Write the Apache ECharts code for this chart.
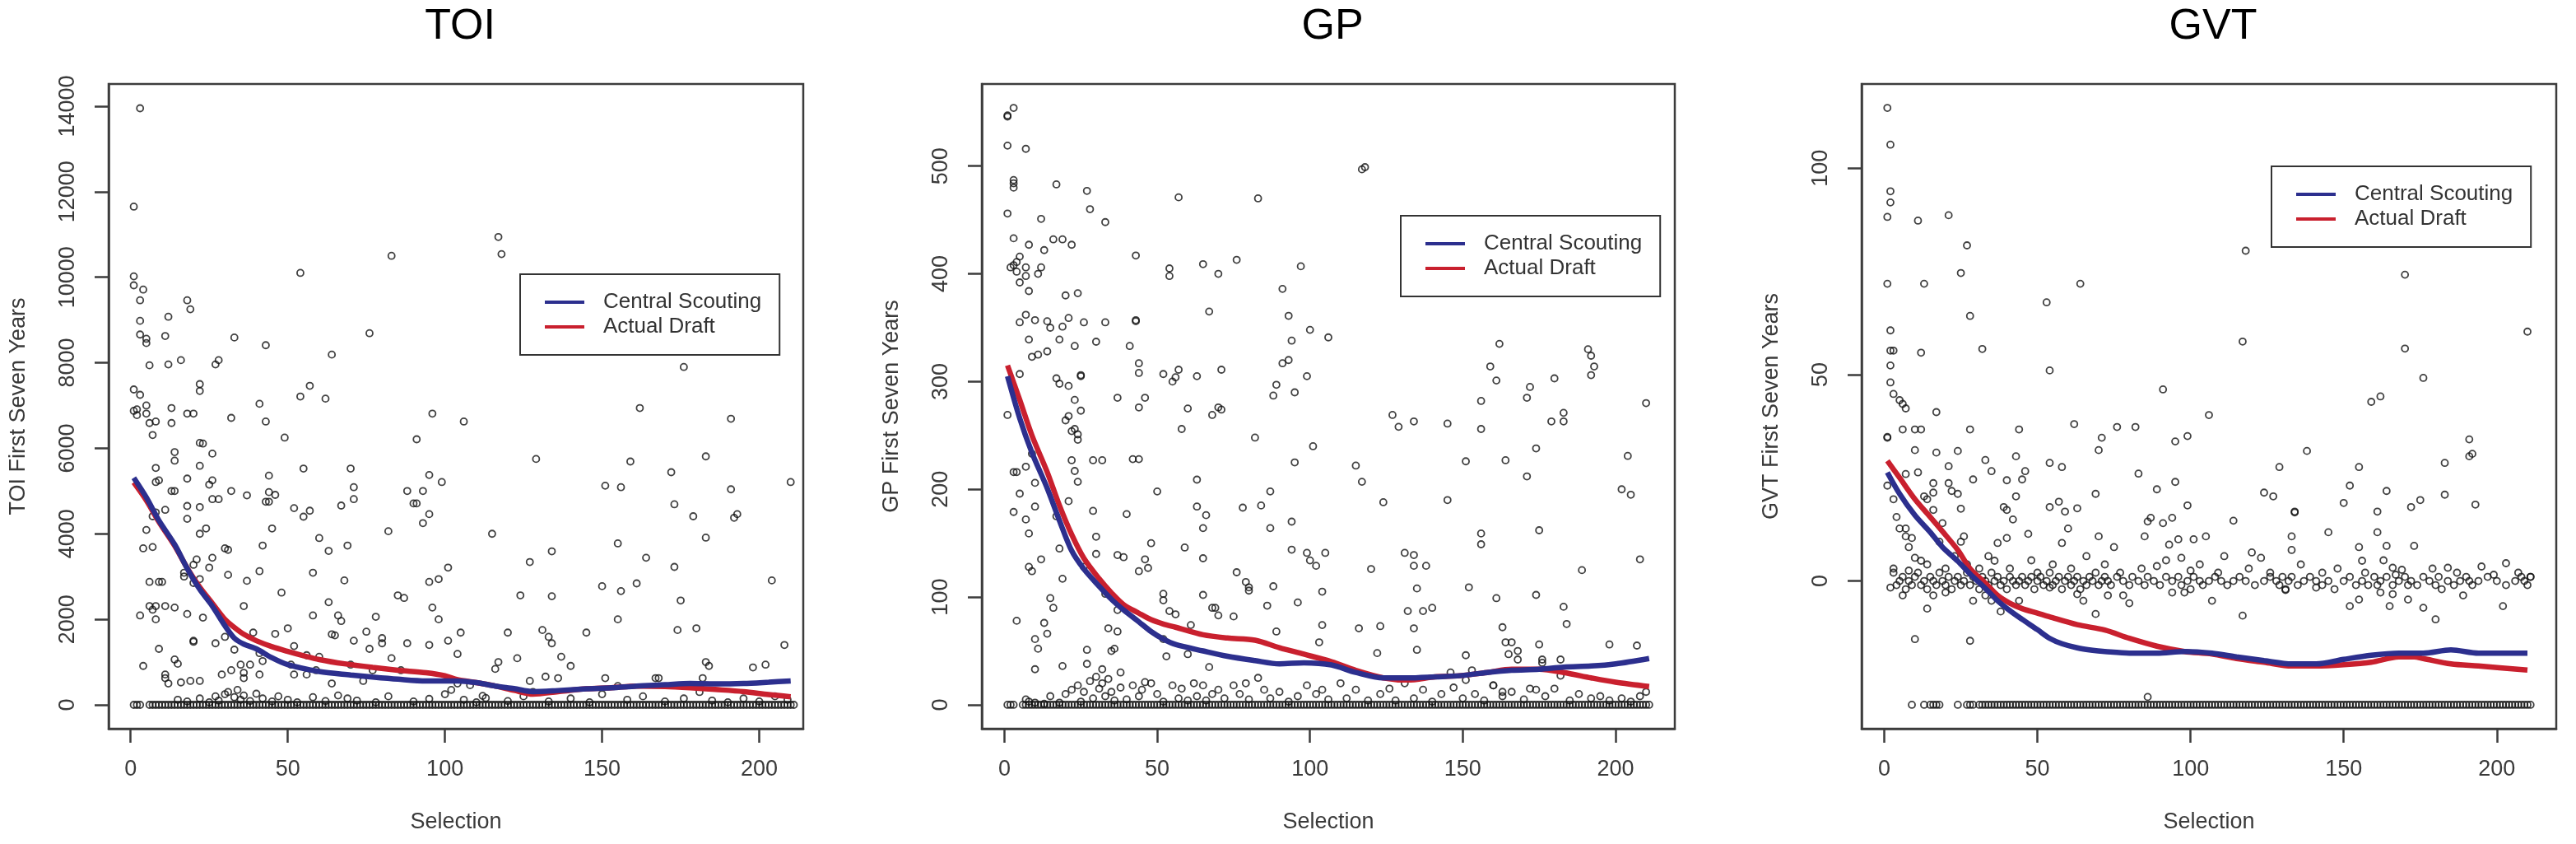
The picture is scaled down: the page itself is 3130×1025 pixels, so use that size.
<!DOCTYPE html>
<html><head><meta charset="utf-8">
<script src="https://cdn.jsdelivr.net/npm/echarts@6/dist/echarts.min.js"></script>
<style>html,body{margin:0;padding:0;background:#fff}#c{width:3130px;height:1025px}</style>
</head><body><div id="c"></div>
<script>
// ---------- tick labels ----------
const xTicks = [0, 50, 100, 150, 200];
const toiTicks = [0, 2000, 4000, 6000, 8000, 10000, 12000, 14000];
const gpTicks = [0, 100, 200, 300, 400, 500];
const gvtTicks = [0, 50, 100];
const panelTitles = ['TOI', 'GP', 'GVT'];
const yNames = ['TOI First Seven Years', 'GP First Seven Years', 'GVT First Seven Years'];
const legendNames = ['Central Scouting', 'Actual Draft'];

// ---------- TOI ----------
const toiPoints = [[3,13950],[1,11650],[1,10020],[1,9810],[4,9710],[3,9460],[3,8980],[3,8660],[5,8560],[5,8460],[6,7940],[12,9075],[18,9460],[19,9250],[11,8625],[12,7960],[16,8060],[22,7500],[22,7340],[27,7960],[28,8060],[33,8590],[43,8410],[1,7375],[3,7250],[2,6910],[1,6875],[2,6775],[5,6810],[5,7000],[6,6590],[8,6625],[7,6310],[13,6590],[13,6940],[18,6810],[20,6810],[22,6125],[26,5875],[32,6710],[41,7040],[43,6625],[49,6250],[54,7210],[57,7460],[62,7160],[64,8190],[54,10100],[76,8690],[83,10500],[96,6810],[106,6625],[117,10940],[118,10540],[176,7900],[191,6690],[162,6940],[129,5750],[159,5690],[172,5440],[183,5810],[210,5210],[191,5040],[151,5125],[156,5090],[173,4690],[179,4410],[192,4375],[193,4460],[183,3910],[155,3775],[164,3440],[161,2840],[156,2660],[150,2775],[204,2910],[173,3225],[175,2440],[155,2000],[145,1690],[174,1750],[180,1790],[183,1000],[184,910],[198,875],[202,940],[208,1400],[134,3590],[127,3340],[134,2540],[124,2560],[120,1690],[131,1750],[133,1590],[134,1440],[137,1125],[140,910],[123,1090],[117,1000],[116,840],[115,4000],[101,3210],[98,2940],[95,2875],[96,2275],[98,2000],[95,1400],[101,1500],[105,1690],[104,1190],[99,5210],[95,5375],[93,5000],[88,5000],[90,4710],[91,4710],[95,4460],[93,4250],[91,6210],[82,4060],[85,2560],[87,2500],[88,1440],[78,2060],[80,1560],[80,1440],[75,1710],[76,1310],[83,1090],[74,560],[70,5525],[71,5090],[71,4810],[67,4660],[69,3725],[68,2910],[60,3900],[63,3600],[58,3090],[57,4540],[55,4400],[52,4600],[55,5525],[48,2625],[50,1790],[52,1375],[66,2090],[67,1960],[64,1650],[65,1625],[63,2400],[58,2090],[60,1125],[56,1160],[71,1500],[44,5360],[43,4750],[44,4750],[44,4975],[46,4910],[45,4125],[42,3725],[41,3125],[37,4900],[37,2900],[36,2310],[39,1690],[46,1660],[42,1025],[41,710],[32,5000],[31,3625],[30,3660],[31,3040],[28,4810],[26,4810],[25,5150],[26,5250],[22,5590],[23,6110],[24,4125],[22,4000],[22,4625],[18,4350],[18,4650],[18,5290],[14,5910],[14,5710],[13,5000],[14,5000],[9,5250],[8,5210],[8,5540],[11,4560],[8,4500],[7,4410],[5,4090],[4,3660],[7,3690],[9,2875],[10,2875],[6,2875],[11,2310],[14,2275],[8,2310],[6,2310],[7,2225],[8,2000],[3,2090],[20,2850],[22,2940],[20,3275],[21,3400],[17,3090],[17,3000],[18,2125],[23,2040],[25,3210],[26,3440],[20,1500],[20,1475],[15,960],[19,560],[9,1310],[4,910],[11,625],[11,710],[14,1060],[16,525],[27,1440],[30,1590],[33,1290],[35,940],[36,750],[36,625],[38,940],[41,1210],[29,710],[32,810],[22,560],[12,500],[51,940],[52,710],[56,710],[59,810],[64,500],[70,940],[77,810],[86,810],[104,500],[108,460],[112,210],[127,560],[132,660],[136,625],[151,625],[155,440],[167,625],[168,625],[182,625],
[15,120],[18,80],[22,150],[25,60],[27,200],[28,100],[30,250],[31,300],[33,180],[34,350],[35,120],[36,220],[38,90],[40,260],[42,150],[45,80],[47,200],[50,120],[53,60],[58,180],[62,90],[66,220],[69,150],[72,100],[78,60],[82,200],[90,80],[95,140],[100,250],[102,350],[106,120],[110,60],[113,160],[120,90],[125,200],[128,300],[133,80],[140,150],[146,60],[150,250],[158,120],[163,200],[170,80],[176,150],[181,300],[185,100],[190,60],[195,150],[200,80],[205,200],[209,120]];
const toiScout = [[1,5310],[5,4850],[9,4310],[14,3750],[18,3190],[22,2700],[26,2310],[30,1850],[33,1560],[36,1420],[40,1310],[45,1100],[50,940],[60,780],[70,700],[77,650],[85,600],[94,560],[104,560],[110,520],[116,440],[122,380],[128,310],[135,330],[145,375],[153,400],[161,440],[170,470],[178,500],[186,490],[195,500],[203,530],[210,560]];
const toiDraft = [[1,5200],[5,4780],[9,4280],[14,3720],[18,3200],[22,2750],[26,2375],[30,2000],[33,1810],[36,1650],[40,1500],[45,1360],[50,1250],[55,1150],[60,1060],[68,960],[77,875],[85,810],[94,750],[100,680],[104,590],[110,520],[116,440],[122,340],[128,250],[136,310],[145,375],[153,400],[161,440],[170,430],[178,400],[186,360],[195,310],[203,240],[210,190]];

// ---------- GP ----------
const gpPoints = [[1,547],[3,554],[1,546],[1,519],[7,516],[1,456],[3,484],[3,480],[3,487],[12,451],[17,483],[27,477],[28,460],[33,448],[57,471],[83,470],[117,497],[118,499],[3,433],[2,406],[3,408],[4,411],[5,416],[4,402],[5,392],[7,406],[7,398],[8,384],[8,427],[11,400],[12,406],[13,422],[16,432],[19,432],[22,427],[20,380],[24,382],[5,355],[7,362],[8,339],[10,357],[14,356],[15,350],[18,339],[19,351],[21,359],[23,333],[26,355],[30,337],[33,355],[11,325],[9,323],[14,328],[5,307],[17,303],[18,298],[21,296],[25,305],[25,306],[23,283],[21,268],[20,264],[25,273],[23,256],[24,251],[24,246],[22,254],[1,269],[3,216],[4,216],[5,196],[7,221],[3,179],[4,78],[7,172],[8,159],[8,128],[9,124],[9,233],[10,206],[10,184],[12,135],[15,99],[16,90],[14,66],[10,61],[11,52],[10,33],[13,76],[17,175],[18,145],[19,117],[19,36],[22,227],[23,217],[24,207],[21,189],[26,128],[27,38],[29,227],[32,227],[29,180],[30,156],[30,140],[33,103],[34,71],[37,88],[37,139],[39,137],[37,68],[35,50],[36,52],[38,30],[32,33],[27,51],[37,285],[41,333],[40,177],[43,417],[43,356],[43,357],[44,317],[44,308],[44,276],[46,285],[42,228],[44,228],[46,135],[48,150],[47,127],[44,124],[46,21],[50,198],[52,103],[52,97],[53,45],[52,61],[54,405],[54,398],[52,307],[55,300],[56,304],[57,311],[58,256],[59,146],[54,87],[56,84],[60,275],[61,74],[60,47],[63,305],[63,209],[63,184],[65,409],[65,164],[65,136],[65,102],[66,176],[67,35],[67,365],[68,269],[70,400],[71,311],[70,276],[71,274],[68,90],[69,90],[70,83],[76,413],[76,123],[75,82],[78,183],[79,114],[80,109],[80,106],[82,248],[84,185],[87,198],[87,164],[88,287],[89,297],[86,92],[88,110],[89,68],[91,386],[91,317],[93,320],[93,361],[94,338],[95,290],[95,225],[94,170],[94,144],[96,95],[97,407],[99,305],[100,348],[99,141],[100,134],[101,240],[102,129],[104,105],[104,74],[103,58],[105,141],[106,341],[115,222],[117,207],[116,71],[120,126],[122,48],[123,73],[124,188],[127,269],[129,258],[131,141],[132,87],[134,139],[134,263],[134,129],[134,71],[135,108],[135,51],[137,87],[138,129],[140,90],[145,261],[145,190],[146,30],[151,46],[151,226],[152,109],[151,23],[153,32],[156,282],[156,256],[156,159],[156,149],[159,314],[161,301],[162,335],[161,99],[164,227],[163,72],[164,58],[166,58],[165,47],[168,50],[168,42],[160,18],[163,12],[171,285],[172,295],[171,212],[174,238],[175,162],[175,56],[176,42],[176,39],[174,102],[172,15],[180,303],[179,263],[183,271],[183,263],[183,91],[184,75],[182,42],[182,27],[189,125],[191,330],[192,324],[192,306],[193,314],[198,56],[202,200],[205,195],[204,231],[208,135],[207,55],[210,280],
[7,5],[8,3],[10,2],[13,1],[15,8],[18,2],[20,10],[22,14],[24,18],[25,3],[26,12],[28,22],[29,6],[30,26],[31,15],[32,20],[33,8],[34,24],[35,12],[36,4],[38,16],[40,5],[42,18],[44,8],[45,14],[48,20],[50,10],[52,3],[55,18],[57,6],[58,15],[60,4],[62,20],[63,8],[65,18],[66,4],[68,10],[70,14],[72,6],[75,18],[77,10],[79,20],[80,5],[83,25],[85,14],[87,6],[90,12],[93,3],[96,8],[99,18],[102,10],[104,14],[106,5],[110,20],[112,6],[115,14],[119,4],[123,10],[126,15],[128,4],[131,20],[134,6],[137,14],[140,3],[143,10],[147,16],[150,6],[154,10],[157,4],[160,18],[163,8],[166,12],[170,5],[174,14],[177,8],[180,15],[185,4],[188,10],[192,6],[195,8],[198,4],[202,6],[205,3],[208,8],[210,12]];
const gpScout = [[1,305],[5,266],[9,234],[14,201],[18,171],[22,143],[26,126],[31,110],[35,98],[39,88],[44,77],[48,68],[52,61],[56,56],[65,50],[73,45],[82,41],[90,38],[98,39],[107,37],[115,30],[124,25],[132,25],[141,26],[149,27],[158,30],[166,32],[175,33],[183,35],[192,36],[200,38],[211,43]];
const gpDraft = [[1,315],[5,283],[9,250],[14,216],[18,185],[22,158],[26,136],[31,117],[35,104],[39,93],[44,85],[48,79],[52,75],[56,72],[65,65],[73,62],[82,60],[90,53],[98,47],[107,40],[115,32],[124,25],[132,23],[141,26],[149,27],[158,30],[166,33],[175,33],[183,30],[192,25],[200,21],[211,17]];

// ---------- GVT ----------
const gvtPoints = [[1,114.6],[2,105.7],[2,94.4],[2,91.7],[1,88.2],[1,72],[13,72],[11,87.3],[21,88.6],[27,81.3],[25,74.6],[28,64.2],[32,56.2],[12,55.3],[2,60.7],[2,55.8],[3,55.8],[2,52.2],[2,48.1],[3,45.3],[5,43.8],[6,42.9],[7,41.8],[17,40.9],[1,34.7],[1,34.9],[6,36.7],[10,36.7],[12,36.7],[10,31.7],[17,31.1],[24,31.5],[28,36.7],[7,25.9],[11,26.3],[16,23.7],[16,21.4],[21,27.8],[21,23.7],[22,21.8],[1,23.1],[3,19.8],[4,15.5],[5,12.7],[7,12.7],[7,10.8],[9,10.4],[8,8.2],[10,5.6],[12,4.9],[13,20.5],[14,19.8],[16,17.2],[18,9.5],[19,14],[25,17.5],[24,21.1],[25,9.5],[26,10.8],[29,24.6],[33,29.3],[35,26.6],[39,17.9],[40,17.2],[42,14.9],[43,20.5],[43,30.2],[44,36.7],[45,24.6],[46,26.6],[47,11.4],[40,24.4],[40,10.4],[37,9.2],[36,4.9],[54,17.9],[54,28.6],[58,27.6],[57,19.2],[59,16.8],[60,12.7],[58,9.2],[63,17.6],[62,38],[64,72],[54,51],[53,67.5],[69,21.1],[70,10.8],[70,31.7],[71,34.7],[75,8.2],[76,37.3],[82,37.3],[83,26],[85,10.8],[86,14.4],[87,15.3],[89,22.2],[91,46.4],[91,14],[93,8.8],[94,15.3],[95,33.8],[95,24],[96,10.1],[99,18.3],[99,35.1],[97,5.6],[101,10.1],[105,10.8],[106,40.2],[89,3.6],[124,21.4],[127,20.5],[120,6.9],[123,5.6],[129,27.6],[133,10.8],[133,7.5],[134,16.6],[134,16.8],[138,31.5],[145,11.8],[114,14.6],[117,58],[118,80],[150,18.9],[152,23.1],[155,27.6],[155,8.2],[156,4.9],[159,43.4],[162,44.7],[161,16.8],[161,11.8],[164,21.8],[164,8.5],[166,3.2],[169,2.7],[170,74.2],[170,56.3],[172,17.9],[173,8.5],[175,19.6],[176,49.2],[183,28.6],[183,20.9],[184,3.2],[191,34.3],[192,30.8],[191,30.2],[193,18.5],[203,4.3],[210,60.4],
[2,-1.6],[6,-3.5],[10,-14.1],[14,-6.7],[16,-3.5],[20,-2.8],[28,-14.5],[29,-4.8],[33,-3.5],[35,-4.8],[38,-7.4],[44,-4.8],[54,-1.6],[63,-3.2],[65,-4.8],[69,-8],[73,-3.5],[78,-3.5],[80,-5.4],[86,-28.1],[94,-2.8],[98,-2.8],[107,-4.8],[117,-8.4],[131,-2.2],[141,-1.6],[152,-6.1],[155,-4.5],[162,-2.8],[165,-6.1],[166,-3.2],[171,-4.5],[176,-6.5],[180,-9.3],[189,-3.5],[202,-6.1],
[3,3],[8,2.5],[14,4],[20,3],[23,6],[27,4],[31,3],[34,6],[41,3],[48,5],[50,2],[55,4],[61,3],[66,6],[72,4],[77,2],[84,3],[92,5],[100,2.5],[103,4],[109,2],[111,6],[119,3],[126,2],[136,4],[143,2],[148,3],[157,2],[163,5],[167,1.5],[179,3],[187,2],[195,3.5],[199,1.5],[207,2],[211,1]];
const gvtNearZero = [[3,2],[4,-1],[5,0],[6,1],[7,-2],[8,0],[9,-1],[10,1],[11,2],[12,-1],[13,0],[14,-2],[15,1],[16,0],[17,-1],[18,2],[19,0],[20,-1],[21,1],[22,-2],[23,0],[24,1],[25,-1],[26,0],[27,2],[28,-1],[29,1],[30,0],[31,-2],[32,1],[33,0],[34,-1],[35,2],[36,0],[37,1],[38,-1],[39,0],[40,-2],[41,1],[42,0],[43,-1],[44,0],[45,1],[46,-1],[47,0],[48,1],[49,-2],[50,0],[51,1],[52,-1],[53,0],[54,2],[55,-1],[56,0],[57,1],[58,-2],[59,0],[60,1],[61,-1],[62,0],[63,1],[64,-2],[65,0],[66,-1],[67,1],[68,0],[69,2],[70,-1],[71,0],[72,1],[73,0],[74,-1],[76,1],[78,0],[80,-1],[81,1],[83,0],[85,-1],[86,1],[88,0],[90,-1],[92,1],[94,0],[96,1],[97,-1],[99,0],[100,-2],[101,1],[103,0],[104,-1],[106,0],[108,1],[110,0],[112,-1],[114,0],[116,1],[118,0],[121,-1],[124,0],[126,1],[128,0],[129,-1],[130,1],[131,-2],[132,0],[133,1],[135,-1],[137,0],[139,1],[141,0],[143,-1],[145,0],[147,-2],[150,0],[152,1],[154,-1],[156,0],[158,-1],[160,1],[161,-1],[162,0],[164,1],[166,-1],[168,0],[170,1],[171,-1],[172,0],[174,-1],[176,1],[178,0],[180,-1],[181,1],[182,-2],[184,0],[186,-1],[188,0],[190,1],[191,0],[192,-1],[194,0],[197,1],[200,0],[203,-1],[206,0],[208,1],[209,0],[210,-1],[211,1]];
const gvtFloor = -30;
const gvtFloorSel = [9,13,15,16,17,18,24,27,28,29,31,32,33,34,35,36,37,38,39,40,41,42,43,44,45,46,47,48,49,50,51,52,53,54,55,56,57,58,59,60,61,62,63,64,65,66,67,68,69,70,71,72,73,74,75,76,77,78,79,80,81,82,83,84,85,86,87,88,89,90,91,92,93,94,95,96,97,98,99,100,101,102,103,104,105,106,107,108,109,110,111,112,113,114,115,116,117,118,119,120,121,122,123,124,125,126,127,128,129,130,131,132,133,134,135,136,137,138,139,140,141,142,143,144,145,146,147,148,149,150,151,152,153,154,155,156,157,158,159,160,161,162,163,164,165,166,167,168,169,170,171,172,173,174,175,176,177,178,179,180,181,182,183,184,185,186,187,188,189,190,191,192,193,194,195,196,197,198,199,200,201,202,203,204,205,206,207,208,209,210,211];
const gvtScout = [[1,26.3],[5,21.1],[10,15.9],[15,11.8],[19,8.2],[24,4.8],[28,1.7],[33,-1.8],[37,-4.8],[41,-7.2],[45,-9.3],[50,-11.8],[54,-13.9],[58,-15.2],[63,-16.2],[68,-16.8],[72,-17.1],[80,-17.5],[89,-17.5],[98,-17.1],[107,-17.5],[115,-18.4],[124,-19.3],[133,-20.1],[141,-20.1],[150,-19],[159,-18],[168,-17.5],[176,-17.5],[185,-16.7],[194,-17.5],[210,-17.5]];
const gvtDraft = [[1,29.1],[5,25],[10,19.8],[15,15.5],[19,12],[24,7.5],[28,3],[33,-0.5],[37,-3.5],[41,-5.4],[45,-6.7],[50,-7.8],[54,-8.7],[63,-10.6],[72,-11.9],[80,-13.9],[89,-15.8],[98,-17.1],[107,-17.7],[115,-18.8],[124,-19.7],[133,-20.6],[141,-20.6],[150,-20.3],[159,-19.7],[168,-18.4],[173,-18.4],[176,-18.8],[185,-20.1],[194,-20.6],[210,-21.6]];

// zero row (TOI and GP): selections with exactly zero
const zeroRowSel = [1,2,3,6,7,8,9,10,11,12,13,14,15,16,17,18,19,20,21,22,23,24,25,26,27,28,29,30,31,32,33,34,35,36,37,38,39,40,41,42,43,44,45,46,47,48,49,50,51,52,53,54,55,56,57,58,59,60,61,62,63,64,65,66,67,68,69,70,71,72,73,74,75,76,77,78,79,80,81,82,83,84,85,86,87,88,89,90,91,92,93,94,95,96,97,98,99,100,101,102,103,104,105,106,107,108,109,110,111,112,113,114,115,116,117,118,119,120,121,122,123,124,125,126,127,128,129,130,131,132,133,134,135,136,137,138,139,140,141,142,143,144,145,146,147,148,149,150,151,152,153,154,155,156,157,158,159,160,161,162,163,164,165,166,167,168,169,170,171,172,173,174,175,176,177,178,179,180,181,182,183,184,185,186,187,188,189,190,191,192,193,194,195,196,197,198,199,200,201,202,203,204,205,206,207,208,209,210,211];

// ---------- layout / style ----------
const BLUE = '#2c2f8e', RED = '#c9202e';
const FONT = 'Liberation Sans';
const panels = [
  {left: 132, width: 844, xmin: -7, xmax: 214, ymin: -558, ymax: 14518, yTicks: toiTicks, legendLeft: 632, legendTop: 333,
   pts: toiPoints, extra: zeroRowSel.map(s => [s, 0]), scout: toiScout, draft: toiDraft},
  {left: 1193, width: 842, xmin: -7.4, xmax: 219.4, ymin: -22.2, ymax: 576.2, yTicks: gpTicks, legendLeft: 1702, legendTop: 262,
   pts: gpPoints, extra: zeroRowSel.map(s => [s, 0]), scout: gpScout, draft: gpDraft},
  {left: 2262, width: 844, xmin: -7.4, xmax: 219.4, ymin: -35.8, ymax: 120.4, yTicks: gvtTicks, legendLeft: 2760, legendTop: 202,
   pts: gvtPoints.concat(gvtNearZero), extra: gvtFloorSel.map(s => [s, gvtFloor]), scout: gvtScout, draft: gvtDraft}
];
const TOP = 102, HEIGHT = 783;
const labelStyle = {fontFamily: FONT, fontSize: 27, color: '#3a3a3a'};
const plain = v => String(v);
const AXIS_COLOR = '#3c3c3c';

const option = {animation: false, backgroundColor: '#fff', title: [], grid: [], xAxis: [], yAxis: [], series: [], legend: []};
panels.forEach((p, i) => {
  option.title.push({text: panelTitles[i], left: p.left + p.width / 2, top: 2, textAlign: 'center',
    textStyle: {fontFamily: FONT, fontSize: 52, fontWeight: 'normal', color: '#000'}});
  option.grid.push({left: p.left, top: TOP, width: p.width, height: HEIGHT, show: true,
    borderColor: AXIS_COLOR, borderWidth: 2.5, backgroundColor: 'transparent', containLabel: false});
  option.xAxis.push({type: 'value', gridIndex: i, min: p.xmin, max: p.xmax, position: 'bottom',
    name: 'Selection', nameLocation: 'middle', nameGap: 100, nameTextStyle: labelStyle,
    axisLine: {show: true, onZero: false, lineStyle: {color: AXIS_COLOR, width: 2.5}}, splitLine: {show: false},
    axisTick: {show: true, inside: false, length: 17, customValues: xTicks, lineStyle: {color: AXIS_COLOR, width: 2.5}},
    axisLabel: Object.assign({margin: 36, customValues: xTicks, formatter: plain}, labelStyle)});
  option.yAxis.push({type: 'value', gridIndex: i, min: p.ymin, max: p.ymax, position: 'left',
    name: yNames[i], nameLocation: 'middle', nameGap: 96, nameRotate: 90, nameTextStyle: labelStyle,
    axisLine: {show: true, onZero: false, lineStyle: {color: AXIS_COLOR, width: 2.5}}, splitLine: {show: false},
    axisTick: {show: true, inside: false, length: 17, customValues: p.yTicks, lineStyle: {color: AXIS_COLOR, width: 2.5}},
    axisLabel: Object.assign({margin: 36, rotate: 90, customValues: p.yTicks, formatter: plain}, labelStyle)});
  const pointStyle = {color: 'rgba(0,0,0,0)', borderColor: '#111', borderWidth: 1.8};
  option.series.push({type: 'scatter', name: panelTitles[i] + ' players', xAxisIndex: i, yAxisIndex: i,
    data: p.extra, symbol: 'circle', symbolSize: 8, itemStyle: pointStyle, silent: true, z: 2});
  option.series.push({type: 'scatter', name: panelTitles[i] + ' players ', xAxisIndex: i, yAxisIndex: i,
    data: p.pts, symbol: 'circle', symbolSize: 8, itemStyle: pointStyle, silent: true, z: 2});
  option.series.push({type: 'line', name: 'Actual Draft', xAxisIndex: i, yAxisIndex: i, data: p.draft,
    showSymbol: false, symbol: 'none', smooth: 0.3, lineStyle: {color: RED, width: 6.5}, itemStyle: {color: RED}, z: 3});
  option.series.push({type: 'line', name: 'Central Scouting', xAxisIndex: i, yAxisIndex: i, data: p.scout,
    showSymbol: false, symbol: 'none', smooth: 0.3, lineStyle: {color: BLUE, width: 6.5}, itemStyle: {color: BLUE}, z: 4});
  option.legend.push({data: legendNames, orient: 'vertical', left: p.legendLeft, top: p.legendTop,
    padding: [21, 22, 21, 30], itemGap: 4, itemWidth: 48, itemHeight: 26, borderColor: '#333', borderWidth: 2,
    backgroundColor: '#fff', icon: 'path://M0,0H48V4H0Z', symbolKeepAspect: true, selectedMode: false,
    itemStyle: {borderWidth: 0},
    textStyle: {fontFamily: FONT, fontSize: 26, color: '#333', padding: [0, 0, 0, 18]}});
});

const chart = echarts.init(document.getElementById('c'), null, {renderer: 'canvas'});
chart.setOption(option);
</script></body></html>
